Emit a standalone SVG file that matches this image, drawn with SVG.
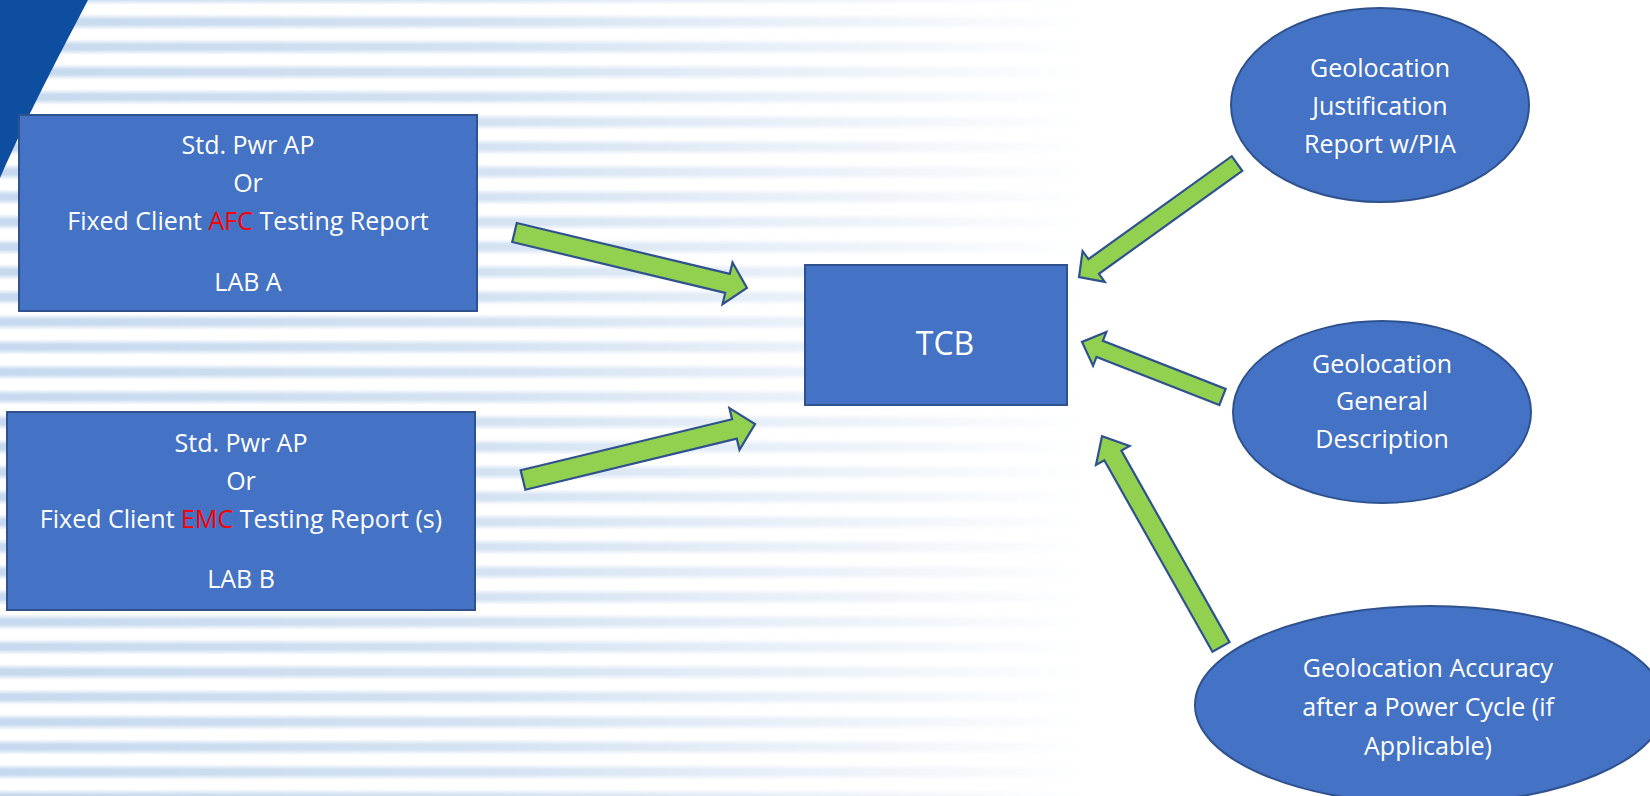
<svg xmlns="http://www.w3.org/2000/svg" width="1650" height="796" viewBox="0 0 1650 796">
  <style>
    .box { fill: #4472c4; stroke: #2f528f; stroke-width: 2; }
    .oval { fill: #4472c4; stroke: #2f528f; stroke-width: 2; }
    .arrow { fill: #92d050; stroke: #2f528f; stroke-width: 2.2; stroke-linejoin: miter; }
    .t { font-family: "Open Sans", "Noto Sans", "DejaVu Sans", sans-serif; font-size: 25px; fill: #ffffff; text-anchor: middle; }
    .red { fill: #ff0000; }
  </style>
  <defs>
    <linearGradient id="stripeV" x1="0" y1="0" x2="0" y2="1">
      <stop offset="0" stop-color="#c6d9ee" stop-opacity="0"/>
      <stop offset="0.35" stop-color="#c6d9ee"/>
      <stop offset="0.65" stop-color="#c6d9ee"/>
      <stop offset="1" stop-color="#c6d9ee" stop-opacity="0"/>
    </linearGradient>
    <pattern id="stripes" width="1650" height="25" patternUnits="userSpaceOnUse">
      <rect x="0" y="14" width="1650" height="16" fill="url(#stripeV)"/>
      <rect x="0" y="-11" width="1650" height="16" fill="url(#stripeV)"/>
    </pattern>
    <linearGradient id="fadeH" x1="0" y1="0" x2="1650" y2="0" gradientUnits="userSpaceOnUse">
      <stop offset="0" stop-color="#fff" stop-opacity="1"/>
      <stop offset="0.3" stop-color="#fff" stop-opacity="0.75"/>
      <stop offset="0.5" stop-color="#fff" stop-opacity="0.35"/>
      <stop offset="0.66" stop-color="#fff" stop-opacity="0"/>
      <stop offset="1" stop-color="#fff" stop-opacity="0"/>
    </linearGradient>
    <mask id="fadeMask">
      <rect x="0" y="0" width="1650" height="796" fill="url(#fadeH)"/>
    </mask>
  </defs>

  <!-- background -->
  <rect x="0" y="0" width="1650" height="796" fill="#ffffff"/>
  <rect x="0" y="0" width="1650" height="796" fill="url(#stripes)" mask="url(#fadeMask)"/>
  <path d="M0,0 L88,0 C62,50 30,110 0,178 Z" fill="#0d4ea0"/>

  <!-- connectors -->
  <g id="connectors">
    <polygon class="arrow" transform="translate(514.5,232.5) rotate(13.43)" points="0,-9.8 219,-9.8 219,-21.5 239,0 219,21.5 219,9.8 0,9.8"/>
    <polygon class="arrow" transform="translate(523,480) rotate(-13.57)" points="0,-10 217.5,-10 217.5,-21.5 238.7,0 217.5,21.5 217.5,10 0,10"/>
    <polygon class="arrow" transform="translate(1237,163.5) rotate(144.3)" points="0,-9 176.5,-9 176.5,-19 194.5,0 176.5,19 176.5,9 0,9"/>
    <polygon class="arrow" transform="translate(1222.5,397) rotate(-158.6)" points="0,-8.7 131.9,-8.7 131.9,-18.2 150.9,0 131.9,18.2 131.9,8.7 0,8.7"/>
    <polygon class="arrow" transform="translate(1221,647) rotate(-119.45)" points="0,-9.8 220,-9.8 220,-19.3 242,0 220,19.3 220,9.8 0,9.8"/>
  </g>

  <!-- nodes -->
  <g id="labA">
    <rect class="box" x="19" y="115" width="458" height="196"/>
    <text class="t" x="248" y="154">Std. Pwr AP</text>
    <text class="t" x="248" y="192">Or</text>
    <text class="t" x="248" y="230">Fixed Client <tspan class="red">AFC</tspan> Testing Report</text>
    <text class="t" x="248" y="291">LAB A</text>
  </g>

  <g id="labB">
    <rect class="box" x="7" y="412" width="468" height="198"/>
    <text class="t" x="241" y="452">Std. Pwr AP</text>
    <text class="t" x="241" y="490">Or</text>
    <text class="t" x="241" y="528">Fixed Client <tspan class="red">EMC</tspan> Testing Report (s)</text>
    <text class="t" x="241" y="588">LAB B</text>
  </g>

  <g id="tcb">
    <rect class="box" x="805" y="265" width="262" height="140"/>
    <text class="t" x="945" y="355" style="font-size:32px">TCB</text>
  </g>

  <g id="geoJustification">
    <ellipse class="oval" cx="1380" cy="105" rx="149" ry="97"/>
    <text class="t" x="1380" y="77">Geolocation</text>
    <text class="t" x="1380" y="115">Justification</text>
    <text class="t" x="1380" y="153">Report w/PIA</text>
  </g>

  <g id="geoGeneral">
    <ellipse class="oval" cx="1382" cy="412" rx="149" ry="91"/>
    <text class="t" x="1382" y="373">Geolocation</text>
    <text class="t" x="1382" y="410">General</text>
    <text class="t" x="1382" y="448">Description</text>
  </g>

  <g id="geoAccuracy">
    <ellipse class="oval" cx="1430" cy="705" rx="235" ry="99"/>
    <text class="t" x="1428" y="677">Geolocation Accuracy</text>
    <text class="t" x="1428" y="716">after a Power Cycle (if</text>
    <text class="t" x="1428" y="755">Applicable)</text>
  </g>
</svg>
